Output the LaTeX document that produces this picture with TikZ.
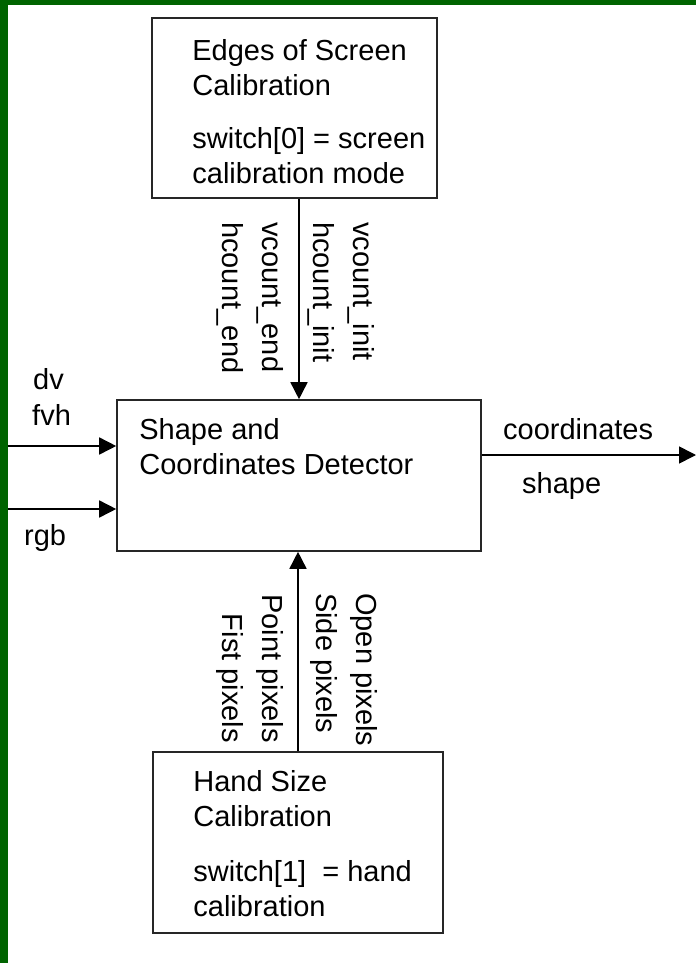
\documentclass[tikz,border=0pt]{standalone}
\usepackage{fontspec}
\setmainfont{Liberation Sans}
\usepackage{xcolor}
\usetikzlibrary{arrows.meta, positioning}

\definecolor{framegreen}{RGB}{0,100,0}

\begin{document}
\begin{tikzpicture}[
  x=1pt, y=-1pt,
  block/.style={draw=black!85, line width=1.6pt},
  blocktext/.style={inner sep=0pt, align=left, font=\fontsize{29}{35.5}\selectfont},
  vlabel/.style={inner sep=0pt, rotate=-90, font=\fontsize{29}{40}\selectfont},
  sig/.style={inner sep=0pt, anchor=base west, font=\fontsize{29}{35}\selectfont},
  conn/.style={-{Triangle[length=17pt,width=17pt]}, line width=1.6pt}
]
% frame
\useasboundingbox (0,0) rectangle (696,963);
\fill[framegreen] (0,0) rectangle (696,963);
\fill[white] (8,5) rectangle (696,963);

% blocks
\node[block, minimum width=285pt, minimum height=180pt] (edges) at (294.5,108) {};
\node[block, minimum width=364pt, minimum height=151pt] (detector) at (299,475.5) {};
\node[block, minimum width=290pt, minimum height=181pt] (hand) at (298,842.5) {};

\node[blocktext, below right=22pt and 41pt of edges.north west] (edgestxt)
  {Edges of Screen\\Calibration\\[17pt]switch[0] = screen\\calibration mode};
\node[blocktext, below right=19pt and 23pt of detector.north west] (detectortxt)
  {Shape and\\Coordinates Detector};
\node[blocktext, below right=19pt and 41pt of hand.north west] (handtxt)
  {Hand Size\\Calibration\\[19pt]switch[1]~ = hand\\calibration};

% connectors
\coordinate (dvin) at (8,446);
\coordinate (rgbin) at (8,509);
\coordinate (out) at (696,455);
\draw[conn] (edges.south -| detector.north) -- (detector.north);
\draw[conn] (hand.north) -- (hand.north |- detector.south);
\draw[conn] (dvin) -- (dvin -| detector.west);
\draw[conn] (rgbin) -- (rgbin -| detector.west);
\draw[conn] (detector.east |- out) -- (out);

% signal names
\node[vlabel, align=left, anchor=north west] (endlbl) at (284,222) {vcount\_end\\hcount\_end};
\node[vlabel, align=left, anchor=north west] (initlbl) at (375,222) {vcount\_init\\hcount\_init};
\node[vlabel, align=right, anchor=north east] (pointlbl) at (284,743) {Point pixels\\Fist pixels};
\node[vlabel, align=left, anchor=north west] (openlbl) at (378,593) {Open pixels\\Side pixels};

\node[sig] (dvlbl) at (33,389) {dv};
\node[sig] (fvhlbl) at (32,425) {fvh};
\node[sig] (rgblbl) at (24,545) {rgb};
\node[sig] (coordlbl) at (503,439) {coordinates};
\node[sig] (shapelbl) at (522,493) {shape};
\end{tikzpicture}
\end{document}
